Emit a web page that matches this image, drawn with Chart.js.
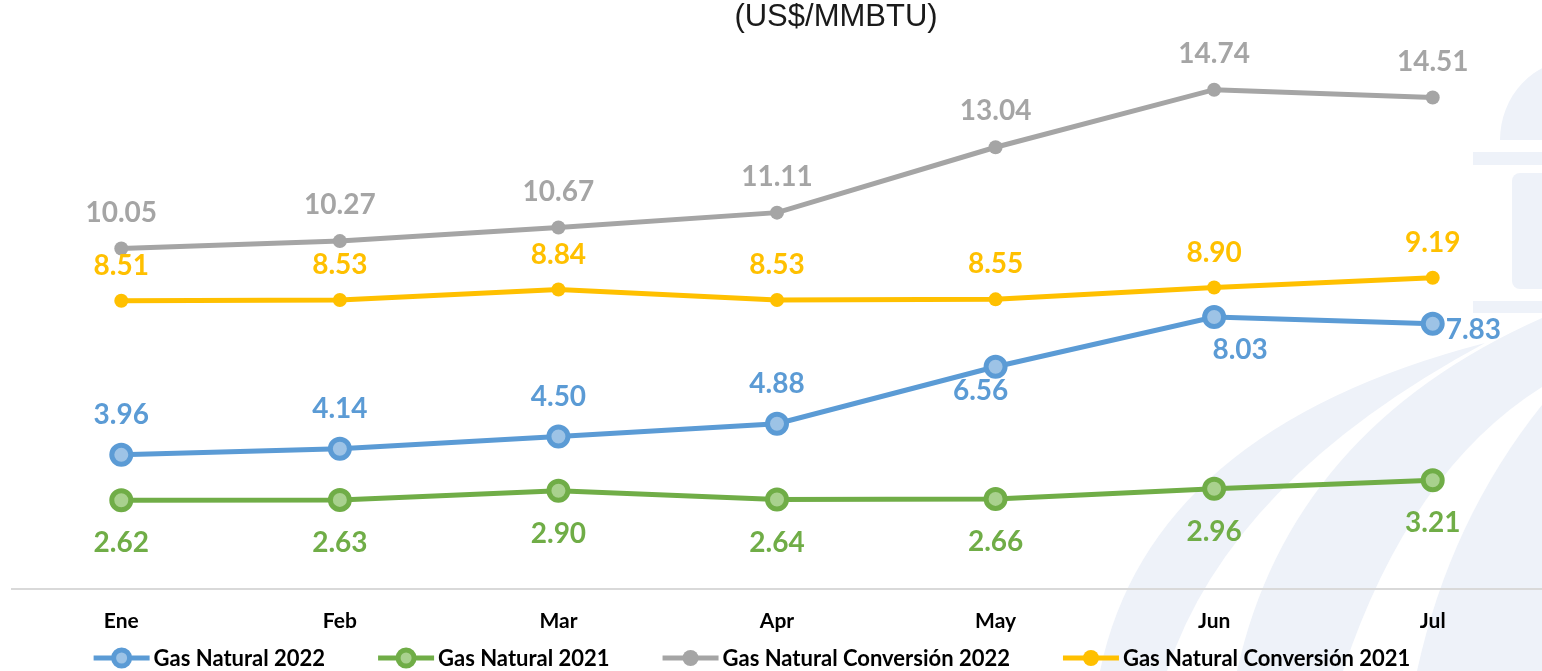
<!DOCTYPE html>
<html><head><meta charset="utf-8">
<script src="https://cdn.jsdelivr.net/npm/chart.js@4.4.1/dist/chart.umd.min.js"></script>
<style>html,body{margin:0;padding:0;background:#fff;overflow:hidden}#wrap{width:1542px;height:671px;position:relative}</style>
</head><body><div id="wrap"><canvas id="c" width="1542" height="671"></canvas></div>
<script>
// ---- data ----
const categories = ['Ene', 'Feb', 'Mar', 'Apr', 'May', 'Jun', 'Jul'];
const gasNatural2022 = [3.96, 4.14, 4.50, 4.88, 6.56, 8.03, 7.83];
const gasNatural2021 = [2.62, 2.63, 2.90, 2.64, 2.66, 2.96, 3.21];
const conversion2022 = [10.05, 10.27, 10.67, 11.11, 13.04, 14.74, 14.51];
const conversion2021 = [8.51, 8.53, 8.84, 8.53, 8.55, 8.90, 9.19];
const seriesNames = ['Gas Natural 2022', 'Gas Natural 2021', 'Gas Natural Conversión 2022', 'Gas Natural Conversión 2021'];
const unitTitle = '(US$/MMBTU)';

// ---- styles ----
const BLUE = '#5B9BD5', BLUE_L = '#9DC3E6';
const GREEN = '#70AD47', GREEN_L = '#A9D18E';
const GRAY = '#A5A5A5', YELLOW = '#FFC000';
const LABEL_FONT = 'bold 28px Lato, "Open Sans", sans-serif';

// label placement (dx, dy, align) per dataset / point
const above = (dy) => ({dx: 0, dy: dy, align: 'center'});
const placements = [
  [above(-40), above(-40), above(-40), above(-40), {dx: -15, dy: 24, align: 'center'}, {dx: 26, dy: 33, align: 'center'}, {dx: 13, dy: 6, align: 'left'}],
  Array(7).fill({dx: 0, dy: 43, align: 'center'}),
  Array(7).fill(above(-36)),
  Array(7).fill(above(-35))
];

const watermark = {
  id: 'watermark',
  beforeDraw(chart) {
    const ctx = chart.ctx;
    ctx.save();
    ctx.fillStyle = '#ffffff';
    ctx.fillRect(0, 0, chart.width, chart.height);
    ctx.fillStyle = '#eef2f9';
    // dome
    ctx.beginPath();
    ctx.ellipse(1575, 140, 75, 80, 0, Math.PI, 2 * Math.PI);
    ctx.closePath();
    ctx.fill();
    // bars
    ctx.fillRect(1473, 152, 80, 13);
    ctx.beginPath();
    if (ctx.roundRect) ctx.roundRect(1512, 173, 50, 116, 8); else ctx.rect(1512, 173, 50, 116);
    ctx.fill();
    ctx.fillRect(1473, 301, 80, 12);
    // sweeping bands
    ctx.beginPath();
    ctx.moveTo(1100, 671);
    ctx.quadraticCurveTo(1150, 430, 1485, 343);
    ctx.quadraticCurveTo(1230, 480, 1167, 671);
    ctx.closePath();
    ctx.fill();
    ctx.beginPath();
    ctx.moveTo(1237, 671);
    ctx.quadraticCurveTo(1290, 430, 1542, 318);
    ctx.lineTo(1542, 387);
    ctx.quadraticCurveTo(1410, 470, 1343, 671);
    ctx.closePath();
    ctx.fill();
    ctx.beginPath();
    ctx.moveTo(1417, 671);
    ctx.quadraticCurveTo(1450, 520, 1542, 405);
    ctx.lineTo(1542, 671);
    ctx.closePath();
    ctx.fill();
    // title text
    ctx.fillStyle = '#1a1a1a';
    ctx.font = '31px "Liberation Sans", Arial, sans-serif';
    ctx.textAlign = 'center';
    ctx.textBaseline = 'middle';
    ctx.fillText(unitTitle, 836, 17);
    ctx.restore();
  }
};

const valueLabels = {
  id: 'valueLabels',
  afterDatasetsDraw(chart) {
    const ctx = chart.ctx;
    ctx.save();
    ctx.font = LABEL_FONT;
    ctx.textBaseline = 'middle';
    chart.data.datasets.forEach((ds, di) => {
      const meta = chart.getDatasetMeta(di);
      meta.data.forEach((pt, i) => {
        const p = placements[di][i];
        ctx.fillStyle = ds.borderColor;
        ctx.textAlign = p.align;
        ctx.fillText(ds.data[i].toFixed(2), pt.x + p.dx, pt.y + p.dy);
      });
    });
    ctx.restore();
  }
};

const customLegend = {
  id: 'customLegend',
  afterDraw(chart) {
    const ctx = chart.ctx;
    const y = 658, iconW = 56, textGap = 4, itemGap = 53;
    ctx.save();
    ctx.font = 'bold 22px Lato, "Open Sans", sans-serif';
    const widths = chart.data.datasets.map(ds => ctx.measureText(ds.label).width);
    const total = widths.reduce((a, w) => a + iconW + textGap + w, 0) + itemGap * (widths.length - 1);
    let x = 752 - total / 2;
    chart.data.datasets.forEach((ds, i) => {
      ctx.strokeStyle = ds.borderColor;
      ctx.lineWidth = 5;
      ctx.beginPath();
      ctx.moveTo(x, y);
      ctx.lineTo(x + iconW, y);
      ctx.stroke();
      const cx = x + iconW / 2;
      ctx.beginPath();
      ctx.arc(cx, y, 8, 0, Math.PI * 2);
      ctx.fillStyle = ds.pointBackgroundColor;
      ctx.fill();
      if (ds.pointBorderWidth > 0) {
        ctx.lineWidth = 5;
        ctx.strokeStyle = ds.pointBorderColor;
        ctx.stroke();
      }
      ctx.fillStyle = '#000';
      ctx.textAlign = 'left';
      ctx.textBaseline = 'middle';
      ctx.fillText(ds.label, x + iconW + textGap, y + 1);
      x += iconW + textGap + widths[i] + itemGap;
    });
    ctx.restore();
  }
};

function ringSeries(label, data, color, light) {
  return {label, data, borderColor: color, backgroundColor: color, borderWidth: 5,
    pointRadius: 9.5, pointHoverRadius: 9.5, pointBorderWidth: 5,
    pointBackgroundColor: light, pointBorderColor: color, tension: 0, clip: false};
}
function dotSeries(label, data, color) {
  return {label, data, borderColor: color, backgroundColor: color, borderWidth: 5,
    pointRadius: 7, pointHoverRadius: 7, pointBorderWidth: 0,
    pointBackgroundColor: color, pointBorderColor: color, tension: 0, clip: false};
}

new Chart(document.getElementById('c'), {
  type: 'line',
  data: {
    labels: categories,
    datasets: [
      ringSeries(seriesNames[0], gasNatural2022, BLUE, BLUE_L),
      ringSeries(seriesNames[1], gasNatural2021, GREEN, GREEN_L),
      dotSeries(seriesNames[2], conversion2022, GRAY),
      dotSeries(seriesNames[3], conversion2021, YELLOW)
    ]
  },
  options: {
    responsive: false,
    animation: false,
    devicePixelRatio: 1,
    layout: {autoPadding: false, padding: {left: 12, right: 0, top: 47, bottom: 37}},
    plugins: {legend: {display: false}, tooltip: {enabled: false}, title: {display: false}},
    scales: {
      x: {
        offset: true,
        grid: {display: false, drawTicks: false},
        border: {display: true, color: '#d9d9d9', width: 2},
        ticks: {color: '#000', padding: 20, maxRotation: 0, font: {family: 'Lato, "Open Sans", sans-serif', size: 21, weight: 'bold'}},
        afterFit(scale) { scale.height = 45; scale.paddingLeft = 0; scale.paddingRight = 0; }
      },
      y: {display: false, min: 0, max: 16}
    }
  },
  plugins: [watermark, valueLabels, customLegend]
});
</script>
</body></html>
